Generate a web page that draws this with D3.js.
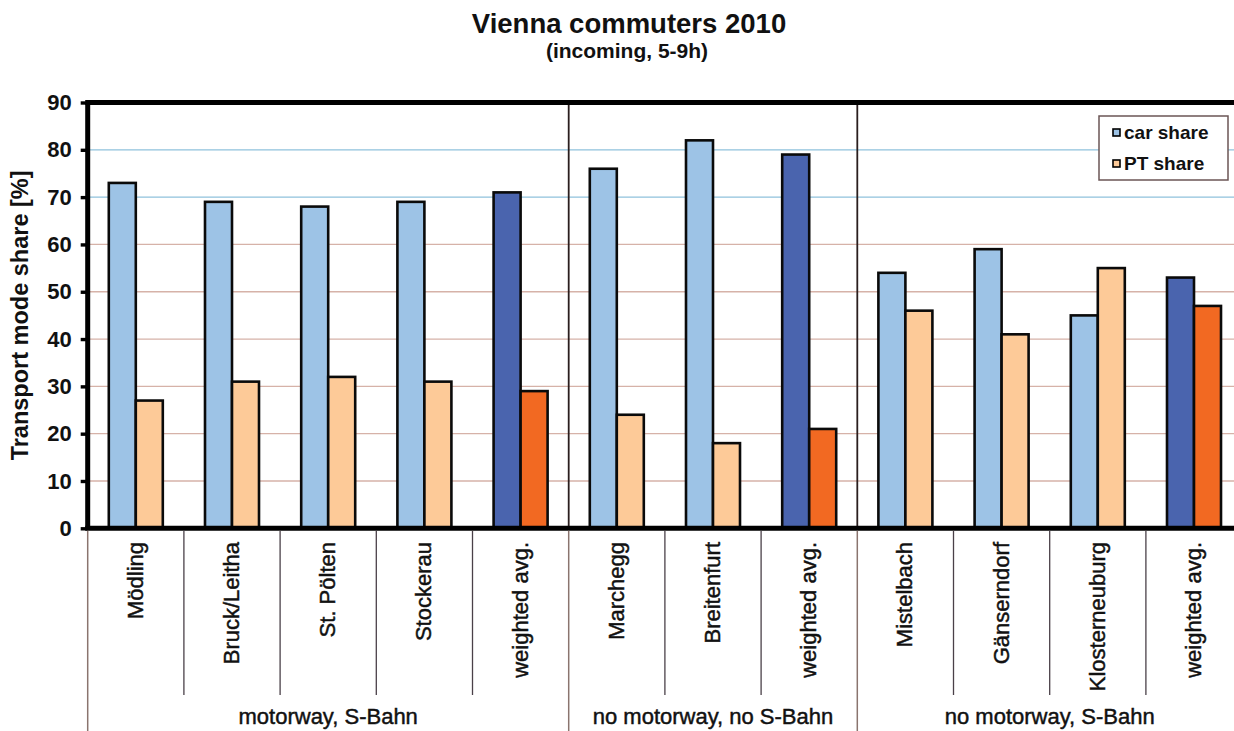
<!DOCTYPE html>
<html>
<head>
<meta charset="utf-8">
<script src="https://cdn.jsdelivr.net/npm/d3@7"></script>
<style>
  body { margin: 0; background: #fff; }
  svg { display: block; }
  text { font-family: "Liberation Sans", Arial, sans-serif; fill: #111; }
</style>
</head>
<body>
<svg id="chart" width="1234" height="731"></svg>
<script>
// Vienna commuters 2010 — incoming, 5-9h: transport mode share per origin town
const categories = ["Mödling", "Bruck/Leitha", "St. Pölten", "Stockerau", "weighted avg.",
                    "Marchegg", "Breitenfurt", "weighted avg.",
                    "Mistelbach", "Gänserndorf", "Klosterneuburg", "weighted avg."];
const categoryGroup = [0, 0, 0, 0, 0, 1, 1, 1, 2, 2, 2, 2];
const groupNames = ["motorway, S-Bahn", "no motorway, no S-Bahn", "no motorway, S-Bahn"];
const carShare = [73, 69, 68, 69, 71, 76, 82, 79, 54, 59, 45, 53];
const ptShare  = [27, 31, 32, 31, 29, 24, 18, 21, 46, 41, 55, 47];
const seriesNames = ["car share", "PT share"];
const yTicks = [0, 10, 20, 30, 40, 50, 60, 70, 80, 90];

const svg = d3.select("#chart");

const plot = { left: 87.7, right: 1242.1, top: 102.5, bottom: 528.3 };
const labelFont = 22;

const x = d3.scaleBand()
  .domain(d3.range(categories.length))
  .range([plot.left, plot.right])
  .paddingInner(0).paddingOuter(0);
const y = d3.scaleLinear().domain([0, 90]).range([plot.bottom, plot.top]);

const barW = x.bandwidth() * 0.2807;
const isAvg = i => categories[i] === "weighted avg.";
const colors = {
  car: "#9dc3e6", pt: "#fdca98",
  carAvg: "#4a64ae", ptAvg: "#f26922"
};

// horizontal gridlines
svg.append("g").selectAll("line")
  .data(yTicks.filter(v => v > 0 && v < 90))
  .join("line")
  .attr("x1", plot.left).attr("x2", plot.right)
  .attr("y1", d => y(d)).attr("y2", d => y(d))
  .attr("stroke", d => d >= 70 ? "#8fc2dc" : "#d6b2a8")
  .attr("stroke-width", 1.3);

// group separators inside the plot
const groupStarts = [];
categoryGroup.forEach((g, i) => { if (i > 0 && g !== categoryGroup[i - 1]) groupStarts.push(i); });
svg.append("g").selectAll("line")
  .data(groupStarts)
  .join("line")
  .attr("x1", i => x(i)).attr("x2", i => x(i))
  .attr("y1", plot.top).attr("y2", plot.bottom)
  .attr("stroke", "#2a1e1e").attr("stroke-width", 1.8);

// bars
const bars = svg.append("g");
bars.selectAll("rect.car")
  .data(carShare)
  .join("rect")
  .attr("class", "car")
  .attr("x", (d, i) => x(i) + x.bandwidth() / 2 - barW)
  .attr("width", barW)
  .attr("y", d => y(d))
  .attr("height", d => y(0) - y(d))
  .attr("fill", (d, i) => isAvg(i) ? colors.carAvg : colors.car)
  .attr("stroke", "#0a0a0a").attr("stroke-width", 2.6);
bars.selectAll("rect.pt")
  .data(ptShare)
  .join("rect")
  .attr("class", "pt")
  .attr("x", (d, i) => x(i) + x.bandwidth() / 2)
  .attr("width", barW)
  .attr("y", d => y(d))
  .attr("height", d => y(0) - y(d))
  .attr("fill", (d, i) => isAvg(i) ? colors.ptAvg : colors.pt)
  .attr("stroke", "#0a0a0a").attr("stroke-width", 2.6);

// y axis
const yAxis = svg.append("g")
  .attr("transform", `translate(${plot.left},0)`)
  .call(d3.axisLeft(y).tickValues(yTicks).tickSize(7).tickPadding(9));
yAxis.select(".domain").remove();
yAxis.selectAll(".tick line").attr("stroke", "#000").attr("stroke-width", 3.4);
yAxis.selectAll(".tick text")
  .attr("font-size", 22).attr("font-weight", "bold")
  .attr("font-family", "Liberation Sans, Arial, sans-serif")
  .attr("fill", "#111");

// heavy frame: top, left and baseline
const frame = svg.append("g").attr("stroke", "#000").attr("stroke-width", 5);
frame.append("line").attr("x1", plot.left - 2.5).attr("x2", plot.right)
  .attr("y1", y(90)).attr("y2", y(90));
frame.append("line").attr("x1", plot.left).attr("x2", plot.left)
  .attr("y1", y(90)).attr("y2", y(0));
frame.append("line").attr("x1", plot.left - 2.5).attr("x2", plot.right)
  .attr("y1", y(0)).attr("y2", y(0));

// category axis: ticks between categories, long ones between groups
const below = svg.append("g");
d3.range(1, categories.length).filter(i => !groupStarts.includes(i)).forEach(i => {
  below.append("line")
    .attr("x1", x(i)).attr("x2", x(i))
    .attr("y1", plot.bottom + 2.5).attr("y2", 695)
    .attr("stroke", "#4a4048").attr("stroke-width", 1.3);
});
[0, ...groupStarts].forEach(i => {
  below.append("line")
    .attr("x1", x(i)).attr("x2", x(i))
    .attr("y1", plot.bottom + 2.5).attr("y2", 731)
    .attr("stroke", "#8a746e").attr("stroke-width", 1.5);
});

// rotated category labels
svg.append("g").selectAll("text")
  .data(categories)
  .join("text")
  .attr("transform", (d, i) => `translate(${x(i) + x.bandwidth() / 2},542) rotate(-90)`)
  .attr("dy", "0.32em")
  .attr("text-anchor", "end")
  .attr("font-size", labelFont)
  .attr("stroke", "#111").attr("stroke-width", 0.45)
  .text(d => d);

// group labels
svg.append("g").selectAll("text")
  .data(groupNames)
  .join("text")
  .attr("x", (d, g) => {
    const idx = d3.range(categories.length).filter(i => categoryGroup[i] === g);
    return (x(idx[0]) + x(idx[idx.length - 1]) + x.bandwidth()) / 2;
  })
  .attr("y", 724)
  .attr("text-anchor", "middle")
  .attr("font-size", labelFont)
  .attr("stroke", "#111").attr("stroke-width", 0.45)
  .text(d => d);

// titles
svg.append("text")
  .attr("x", 629).attr("y", 33)
  .attr("text-anchor", "middle")
  .attr("font-size", 27.5).attr("font-weight", "bold")
  .text("Vienna commuters 2010");
svg.append("text")
  .attr("x", 627).attr("y", 58)
  .attr("text-anchor", "middle")
  .attr("font-size", 21).attr("font-weight", "bold")
  .text("(incoming, 5-9h)");

// y axis title
svg.append("text")
  .attr("transform", `translate(20,${(plot.top + plot.bottom) / 2}) rotate(-90)`)
  .attr("dy", "0.35em")
  .attr("text-anchor", "middle")
  .attr("font-size", 23.5).attr("font-weight", "bold")
  .text("Transport mode share [%]");

// legend
const legend = svg.append("g");
legend.append("rect")
  .attr("x", 1099).attr("y", 116).attr("width", 129).attr("height", 64)
  .attr("fill", "#fff").attr("stroke", "#6b5555").attr("stroke-width", 1.5);
const legendFill = [colors.car, colors.pt];
seriesNames.forEach((name, k) => {
  const row = legend.append("g").attr("transform", `translate(0,${k * 31})`);
  row.append("rect")
    .attr("x", 1113).attr("y", 129).attr("width", 7).attr("height", 7)
    .attr("fill", legendFill[k]).attr("stroke", "#000").attr("stroke-width", 1.6);
  row.append("text")
    .attr("x", 1124).attr("y", 139)
    .attr("font-size", 19).attr("font-weight", "bold")
    .text(name);
});
</script>
</body>
</html>
